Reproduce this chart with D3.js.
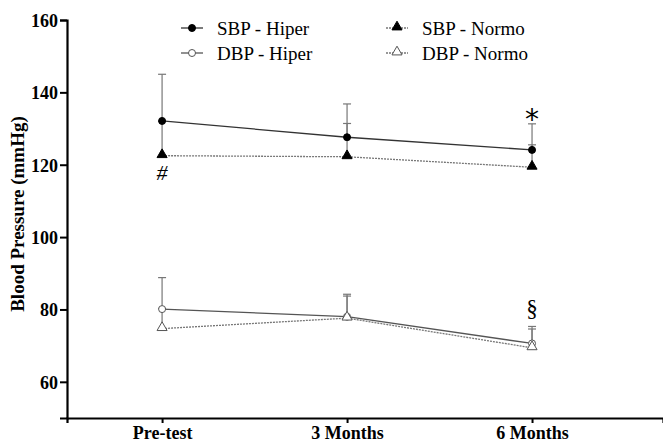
<!DOCTYPE html>
<html lang="en">
<head>
<meta charset="utf-8">
<title>Blood pressure</title>
<script src="https://d3js.org/d3.v7.min.js"></script>
<style>
  body { margin: 0; background: #fff; }
  text { font-family: "Liberation Serif", "Times New Roman", serif; }
</style>
</head>
<body>
<div id="chart"></div>
<script>
// data
var categories = ["Pre-test", "3 Months", "6 Months"];
var sbpHiper = [132.1, 127.6, 124.1];
var sbpHiperErr = [145, 136.8, 131.3];
var sbpNormo = [122.5, 122.2, 119.3];
var sbpNormoErr = [132, 131.4, 125.5];
var dbpHiper = [80.1, 78.0, 70.6];
var dbpHiperErr = [88.8, 84.2, 75.3];
var dbpNormo = [74.7, 77.6, 69.4];
var dbpNormoErr = [80.3, 83.7, 74.6];
var yTicks = [60, 80, 100, 120, 140, 160];

var w = 663, h = 444;
var svg = d3.select("#chart").append("svg")
  .attr("width", w).attr("height", h);

var x = d3.scaleLinear().domain([-0.514, 2.708]).range([67, 663]);
var y = d3.scaleLinear().domain([50, 160]).range([418, 20]);

// series setup
var series = [
  {name: "SBP - Hiper", vals: sbpHiper, err: sbpHiperErr, shape: "circle", fill: "#000", color: "#333", dash: null},
  {name: "DBP - Hiper", vals: dbpHiper, err: dbpHiperErr, shape: "circle", fill: "#fff", color: "#555", dash: null},
  {name: "SBP - Normo", vals: sbpNormo, err: sbpNormoErr, shape: "triangle", fill: "#000", color: "#777", dash: "2,1"},
  {name: "DBP - Normo", vals: dbpNormo, err: dbpNormoErr, shape: "triangle", fill: "#fff", color: "#777", dash: "2,1"}
];

var line = d3.line().x(function(d, i) { return x(i); }).y(function(d) { return y(d); });

var plot = svg.append("g");

// error bars (upper only)
series.forEach(function(s) {
  var g = plot.append("g");
  s.vals.forEach(function(v, i) {
    g.append("line")
      .attr("x1", x(i)).attr("x2", x(i))
      .attr("y1", y(v)).attr("y2", y(s.err[i]))
      .attr("stroke", "#777").attr("stroke-width", 1.2);
    g.append("line")
      .attr("x1", x(i) - 4).attr("x2", x(i) + 4)
      .attr("y1", y(s.err[i])).attr("y2", y(s.err[i]))
      .attr("stroke", "#777").attr("stroke-width", 1.2);
  });
});

// lines
series.forEach(function(s) {
  plot.append("path")
    .datum(s.vals)
    .attr("d", line)
    .attr("fill", "none")
    .attr("stroke", s.color)
    .attr("stroke-width", 1.3)
    .attr("stroke-dasharray", s.dash);
});

var tri = d3.symbol().type(d3.symbolTriangle).size(44);

function marker(g, s, cx, cy) {
  if (s.shape === "circle") {
    g.append("circle").attr("cx", cx).attr("cy", cy).attr("r", 3.5)
      .attr("fill", s.fill).attr("stroke", s.fill === "#000" ? "#000" : "#555").attr("stroke-width", 1);
  } else {
    g.append("path").attr("d", tri)
      .attr("transform", "translate(" + cx + "," + (cy - 1) + ")")
      .attr("fill", s.fill).attr("stroke", s.fill === "#000" ? "#000" : "#555").attr("stroke-width", 1);
  }
}

series.forEach(function(s) {
  var g = plot.append("g");
  s.vals.forEach(function(v, i) { marker(g, s, x(i), y(v)); });
});

// axes
var yAxis = svg.append("g")
  .attr("transform", "translate(67,0)")
  .call(d3.axisLeft(y).tickValues(yTicks).tickSize(7).tickPadding(2));
var xAxis = svg.append("g")
  .attr("transform", "translate(0,418)")
  .call(d3.axisBottom(x).tickValues([0, 1, 2]).tickSize(5).tickPadding(3)
    .tickFormat(function(d) { return categories[d]; }));

[yAxis, xAxis].forEach(function(a) {
  a.select(".domain").attr("stroke", "#000").attr("stroke-width", 2.2);
  a.selectAll(".tick line").attr("stroke", "#000").attr("stroke-width", 2);
  a.selectAll("text").attr("fill", "#000")
    .style("font-family", "'Liberation Serif', serif")
    .style("font-weight", "bold").style("font-size", "18px");
});
yAxis.selectAll("text").attr("dy", "0.35em");

// y title
svg.append("text")
  .attr("transform", "translate(24,214) rotate(-90)")
  .attr("text-anchor", "middle")
  .style("font-weight", "bold").style("font-size", "19px")
  .text("Blood Pressure (mmHg)");

// annotations
svg.append("text").attr("x", x(0)).attr("y", 180).attr("text-anchor", "middle")
  .style("font-size", "22px").style("font-style", "italic").text("#");
svg.append("text").attr("x", x(2)).attr("y", 129).attr("text-anchor", "middle")
  .style("font-family", "'DejaVu Sans', sans-serif")
  .style("font-size", "28px").text("*");
svg.append("text").attr("x", x(2)).attr("y", 316).attr("text-anchor", "middle")
  .style("font-size", "23px").text("§");

// legend
var legendPos = [[192, 28], [192, 53], [397, 28], [397, 53]];
series.forEach(function(s, i) {
  var lx = legendPos[i][0], ly = legendPos[i][1];
  var g = svg.append("g");
  g.append("line").attr("x1", lx - 11).attr("x2", lx + 11).attr("y1", ly).attr("y2", ly)
    .attr("stroke", s.color).attr("stroke-width", 1.3).attr("stroke-dasharray", s.dash);
  marker(g, s, lx, ly);
  g.append("text").attr("x", lx + 25).attr("y", ly).attr("dy", "0.35em")
    .style("font-size", "19px").text(s.name);
});
</script>
</body>
</html>
